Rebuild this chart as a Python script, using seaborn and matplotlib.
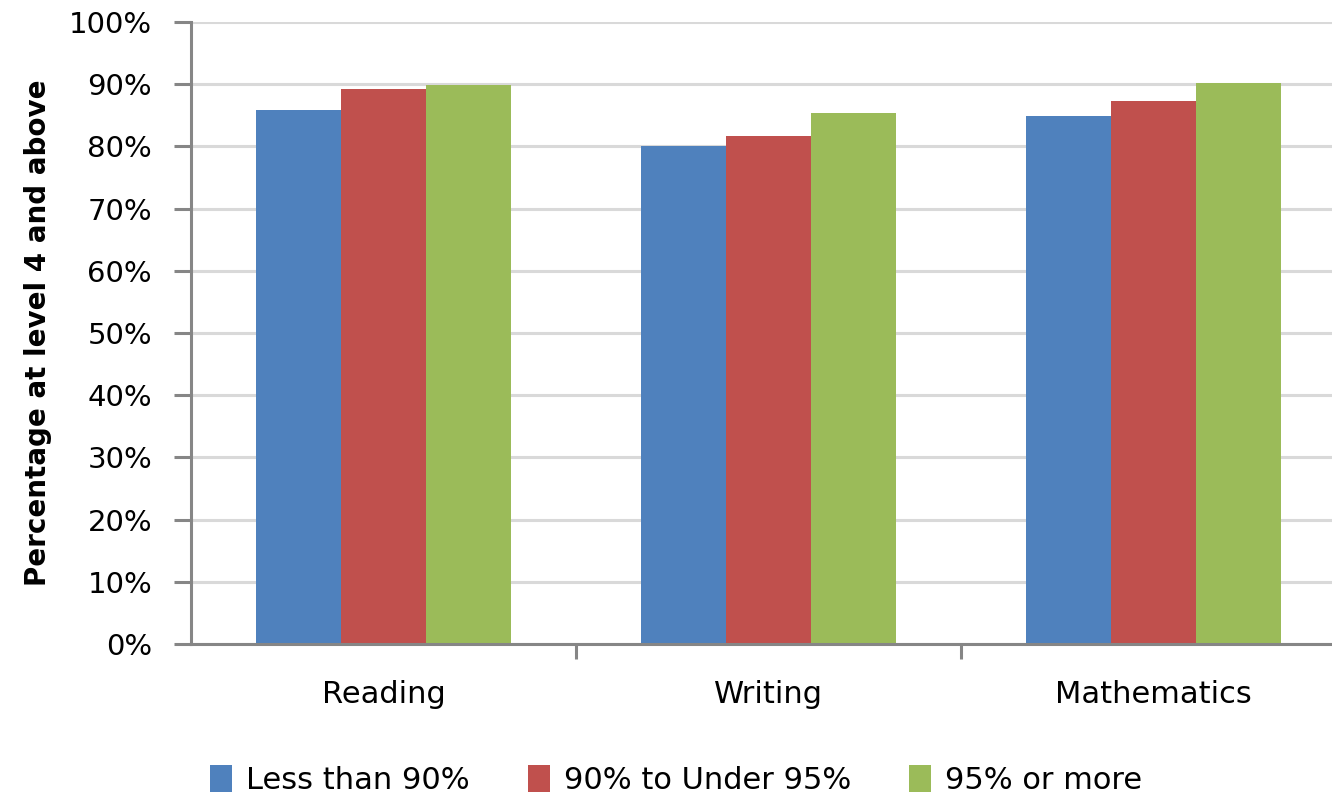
import matplotlib
matplotlib.use("Agg")
import matplotlib.pyplot as plt
import seaborn as sns
import pandas as pd
from matplotlib.ticker import PercentFormatter, FixedLocator

subjects = ["Reading", "Writing", "Mathematics"]
groups = ["Less than 90%", "90% to Under 95%", "95% or more"]
less_than_90 = [85.9, 80.1, 84.9]
from_90_to_95 = [89.3, 81.6, 87.3]
over_95 = [89.8, 85.4, 90.2]
colors = ["#4f81bd", "#c0504d", "#9bbb59"]

rows = []
for g, vals in zip(groups, [less_than_90, from_90_to_95, over_95]):
    for s, v in zip(subjects, vals):
        rows.append({"Subject": s, "Group": g, "Value": v})
df = pd.DataFrame(rows)

sns.set_theme(style="white")
plt.rcParams['font.family'] = ['DejaVu Sans']
plt.rcParams['text.color'] = 'black'

fig = plt.figure(figsize=(13.32, 7.96), dpi=100)
W, H = 1332, 796
ax = fig.add_axes([191 / W, 1 - 644 / H, (1332 - 191) / W, (644 - 22) / H])

sns.barplot(data=df, x="Subject", y="Value", hue="Group", palette=colors,
            width=0.662, saturation=1, ax=ax, legend=True, errorbar=None,
            linewidth=0, edgecolor="none")

ax.yaxis.set_major_locator(FixedLocator(range(0, 101, 10)))
ax.yaxis.set_major_formatter(PercentFormatter(decimals=0))
ax.grid(axis="y", color="#d9d9d9", linewidth=2.2)
ax.set_axisbelow(True)

for side in ["top", "right"]:
    ax.spines[side].set_visible(False)
for side in ["left", "bottom"]:
    ax.spines[side].set_color("#868686")
    ax.spines[side].set_linewidth(2.2)

ax.tick_params(axis="y", which="major", left=True, length=12, width=2.2,
               color="#868686", labelsize=21, pad=16, labelcolor="black")
ax.set_xticks([0, 1, 2])
ax.set_xticklabels(subjects)
ax.tick_params(axis="x", which="major", bottom=False, labelsize=22, pad=20,
               labelcolor="black")
ax.set_xticks([0.5, 1.5], minor=True)
ax.tick_params(axis="x", which="minor", bottom=True, length=11, width=2.2,
               color="#868686")

ax.set_ylim(0, 100)
ax.set_xlim(-0.5, -0.5 + (1332 - 191) / 385)

ax.set_xlabel("")
ax.set_ylabel("Percentage at level 4 and above", fontsize=20, fontweight="bold",
              labelpad=12, color="black")

handles, labels = ax.get_legend_handles_labels()
ax.legend_.remove()
leg = fig.legend(handles, labels, loc="center", bbox_to_anchor=(676 / W, 1 - 780 / H),
                 ncol=3, frameon=False, fontsize=22, handlelength=0.72,
                 handleheight=0.95, handletextpad=0.46, columnspacing=1.9)
for t in leg.get_texts():
    t.set_color("black")

fig.savefig("out.png", dpi=100)
